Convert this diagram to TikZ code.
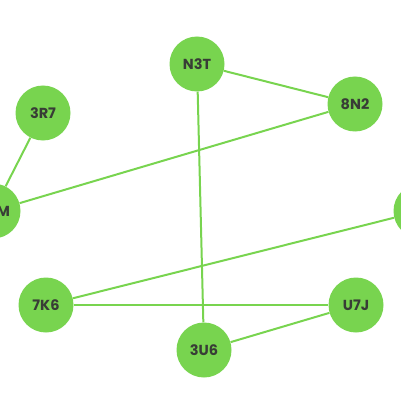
\documentclass[tikz,border=0pt]{standalone}
\usepackage{fontspec}
\setmainfont{Poppins}
\usetikzlibrary{backgrounds}
\begin{document}
\begin{tikzpicture}[x=1pt,y=-1pt,
  vertex/.style={circle,fill=nodegreen,draw=none,minimum size=55pt,inner sep=0pt,
    text=labelgrey,font=\fontsize{14.5}{16}\selectfont\bfseries},
  link/.style={draw=nodegreen,line width=2pt}]
\definecolor{nodegreen}{HTML}{78D44F}
\definecolor{labelgrey}{HTML}{383D36}
\useasboundingbox (0,0) rectangle (401,401);
\begin{scope}
\clip (0,0) rectangle (401,401);
% vertices
\node[vertex] (n3t) at (197,64) {N3T};
\node[vertex] (8n2) at (355,104) {8N2};
\node[vertex] (3r7) at (43,113) {3R7};
\node[vertex] (xm)  at (-7,211) {\phantom{XX}M};
\node[vertex] (r)   at (421,211) {};
\node[vertex] (7k6) at (46,305) {7K6};
\node[vertex] (u7j) at (356,305) {U7J};
\node[vertex] (3u6) at (204,350) {3U6};
% edges, behind the vertices
\begin{scope}[on background layer]
\draw[link] (n3t) -- (8n2);
\draw[link] (n3t) -- (3u6);
\draw[link] (8n2) -- (xm);
\draw[link] (3r7) -- (xm);
\draw[link] (r) -- (7k6);
\draw[link] (7k6) -- (u7j);
\draw[link] (u7j) -- (3u6);
\end{scope}
\end{scope}
\end{tikzpicture}
\end{document}
